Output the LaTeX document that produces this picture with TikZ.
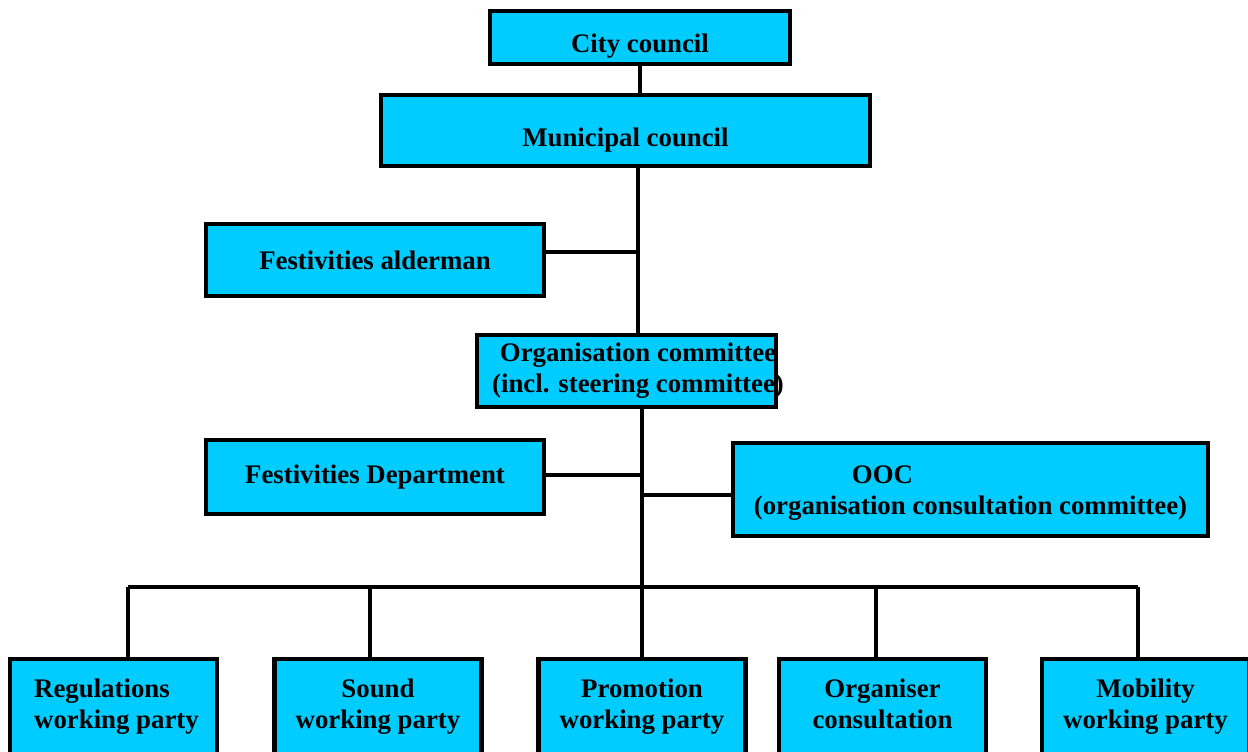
\documentclass[tikz,border=0pt]{standalone}
\usepackage{fontspec}
\setmainfont{Liberation Serif}
\definecolor{boxcyan}{HTML}{00CCFF}

\begin{document}
\begin{tikzpicture}[x=0.5pt, y=-0.5pt, line width=2pt,
    orgbox/.style={draw, fill=boxcyan, line width=2.4pt, align=center,
      font=\fontsize{13.4}{15.5}\selectfont\bfseries},
    wpbox/.style={orgbox, minimum width=103.5pt, minimum height=47.5pt}]
  \clip (0,0) rectangle (1248,751);
  % cajas superiores
  \node[orgbox, minimum width=150pt, minimum height=26.5pt, text height=15.2pt, text depth=0pt]
    (city) at (640,37.5) {City council};
  \node[orgbox, minimum width=244.5pt, minimum height=35.5pt, text height=16.2pt, text depth=0pt]
    (municipal) at (625.5,130.5) {Municipal council};
  \node[orgbox, minimum width=169pt, minimum height=36pt] (alderman) at (375,260) {Festivities alderman};
  \node[orgbox, minimum width=149.5pt, minimum height=36pt, inner xsep=0pt] (orgcom) at (626.5,371)
    {\hspace*{5.75pt}Organisation committee\hspace*{-5.75pt}\\
     \hspace*{5.75pt}(incl. steering committee)\hspace*{-5.75pt}};
  \node[orgbox, minimum width=169pt, minimum height=37pt] (festdep) at (375,477) {Festivities Department};
  \node[orgbox, minimum width=237.5pt, minimum height=46.5pt, align=left] (ooc) at (970.5,489.5)
    {\rule{0pt}{12pt}\hspace*{49pt}OOC\\(organisation consultation committee)\vphantom{y}};
  % grupos de trabajo
  \node[wpbox, align=left] (regwp) at (113.5,706.5) {\hspace*{3pt}Regulations\\\hspace*{3pt}working party};
  \node[wpbox] (soundwp) at (378,706.5) {Sound\\working party};
  \node[wpbox] (promowp) at (642,706.5) {Promotion\\working party};
  \node[wpbox] (orgcons) at (882.5,706.5) {Organiser\\consultation\vphantom{y}};
  \node[wpbox] (mobwp) at (1145.5,706.5) {Mobility\\working party};
  % puntos de union
  \coordinate (jal) at (638,252);
  \coordinate (jdep) at (642,475);
  \coordinate (jooc) at (642,495);
  \coordinate (bus) at (642,587);
  \coordinate (dreg) at (128,587);
  \coordinate (dsound) at (370,587);
  \coordinate (dorg) at (876,587);
  \coordinate (dmob) at (1138,587);
  % lineas
  \draw (city.south) -- (city.south |- municipal.north);
  \draw (municipal.south -| jal) -- (orgcom.north -| jal);
  \draw (alderman.east |- jal) -- (jal);
  \draw (orgcom.south -| bus) -- (bus);
  \draw (festdep.east |- jdep) -- (jdep);
  \draw (jooc) -- (ooc.west |- jooc);
  \draw (dreg) -- (dmob);
  \draw (dreg) -- (dreg |- regwp.north);
  \draw (dsound) -- (dsound |- soundwp.north);
  \draw (bus) -- (promowp.north);
  \draw (dorg) -- (dorg |- orgcons.north);
  \draw (dmob) -- (dmob |- mobwp.north);
\end{tikzpicture}
\end{document}
